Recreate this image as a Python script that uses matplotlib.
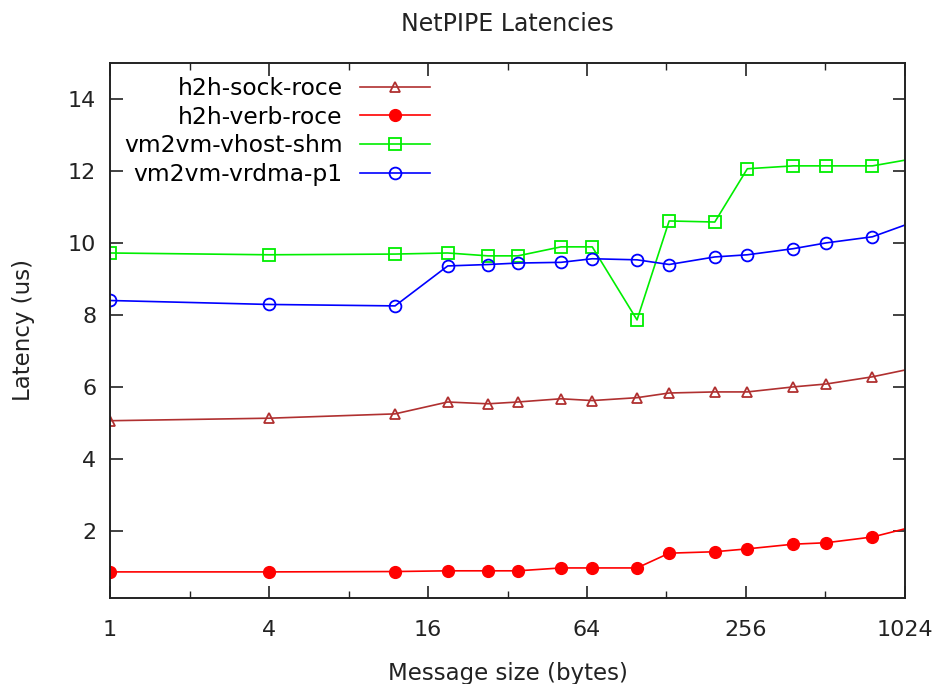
import numpy as np
import matplotlib.pyplot as plt
from matplotlib.ticker import FixedLocator, NullFormatter

# message sizes in bytes (netpipe points); last point sits just past 1024
sizes = [1, 4, 12, 19, 27, 35, 51, 67, 99, 131, 195, 259, 387, 515, 771, 1027]

# latencies in us
sock_roce = [5.06, 5.13, 5.25, 5.58, 5.53, 5.58, 5.67, 5.62, 5.70, 5.83, 5.86, 5.86, 6.00, 6.08, 6.28, 6.47]
verb_roce = [0.86, 0.86, 0.87, 0.89, 0.89, 0.89, 0.97, 0.97, 0.97, 1.38, 1.42, 1.50, 1.63, 1.67, 1.83, 2.06]
vhost_shm = [9.72, 9.67, 9.69, 9.72, 9.64, 9.64, 9.89, 9.89, 7.86, 10.61, 10.58, 12.06, 12.14, 12.14, 12.14, 12.30]
vrdma_p1 = [8.40, 8.29, 8.25, 9.36, 9.40, 9.44, 9.46, 9.56, 9.53, 9.40, 9.61, 9.67, 9.84, 10.00, 10.17, 10.50]

xticks = [1, 4, 16, 64, 256, 1024]
xminor = [2, 8, 32, 128, 512]
yticks = [2, 4, 6, 8, 10, 12, 14]

fig = plt.figure(figsize=(9.38, 6.84), dpi=100)
ax = fig.add_axes([0.1173, 0.126, 0.8475, 0.782])

# last point is off the edge, no marker drawn there
me = slice(0, len(sizes) - 1)
ax.plot(sizes, sock_roce, color='#b03030', lw=1.2, marker='^', mfc='none', mec='#b03030', ms=7.5, mew=1.3, markevery=me, label='h2h-sock-roce')
ax.plot(sizes, verb_roce, color='#ff0000', lw=1.2, marker='o', mfc='#ff0000', mec='#ff0000', ms=8.5, markevery=me, label='h2h-verb-roce')
ax.plot(sizes, vhost_shm, color='#00ee00', lw=1.2, marker='s', mfc='none', mec='#00ee00', ms=8, mew=1.3, markevery=me, label='vm2vm-vhost-shm')
ax.plot(sizes, vrdma_p1, color='#0000ff', lw=1.2, marker='o', mfc='none', mec='#0000ff', ms=8.5, mew=1.3, markevery=me, label='vm2vm-vrdma-p1')

ax.set_xscale('log', base=2)
ax.set_xlim(1, 1024)
ax.set_ylim(0.14, 15)
ax.xaxis.set_major_locator(FixedLocator(xticks))
ax.xaxis.set_minor_locator(FixedLocator(xminor))
ax.xaxis.set_minor_formatter(NullFormatter())
ax.set_xticklabels([str(t) for t in xticks])
ax.set_yticks(yticks)

ax.tick_params(which='both', direction='in', top=True, right=True, labelsize=16, colors='#222222')
ax.tick_params(axis='y', pad=10)
ax.tick_params(axis='x', pad=16)
ax.tick_params(which='major', length=9, width=1.2)
ax.tick_params(which='minor', length=5, width=1.0)
for s in ax.spines.values():
    s.set_linewidth(1.4)
    s.set_color('#222222')

ax.set_xlabel('Message size (bytes)', fontsize=16.5, labelpad=16, color='#222222')
ax.set_ylabel('Latency (us)', fontsize=16.5, labelpad=4, color='#222222')
ax.yaxis.set_label_coords(-0.095, 0.5)
ax.set_title('NetPIPE Latencies', fontsize=17, pad=23, color='#222222')

ax.legend(loc='upper left', markerfirst=False, frameon=False, fontsize=16.8,
          handlelength=3.0, handletextpad=0.75, labelspacing=0.24, borderaxespad=0.2,
          bbox_to_anchor=(0.0, 1.0))

fig.savefig('out.png', dpi=100)
